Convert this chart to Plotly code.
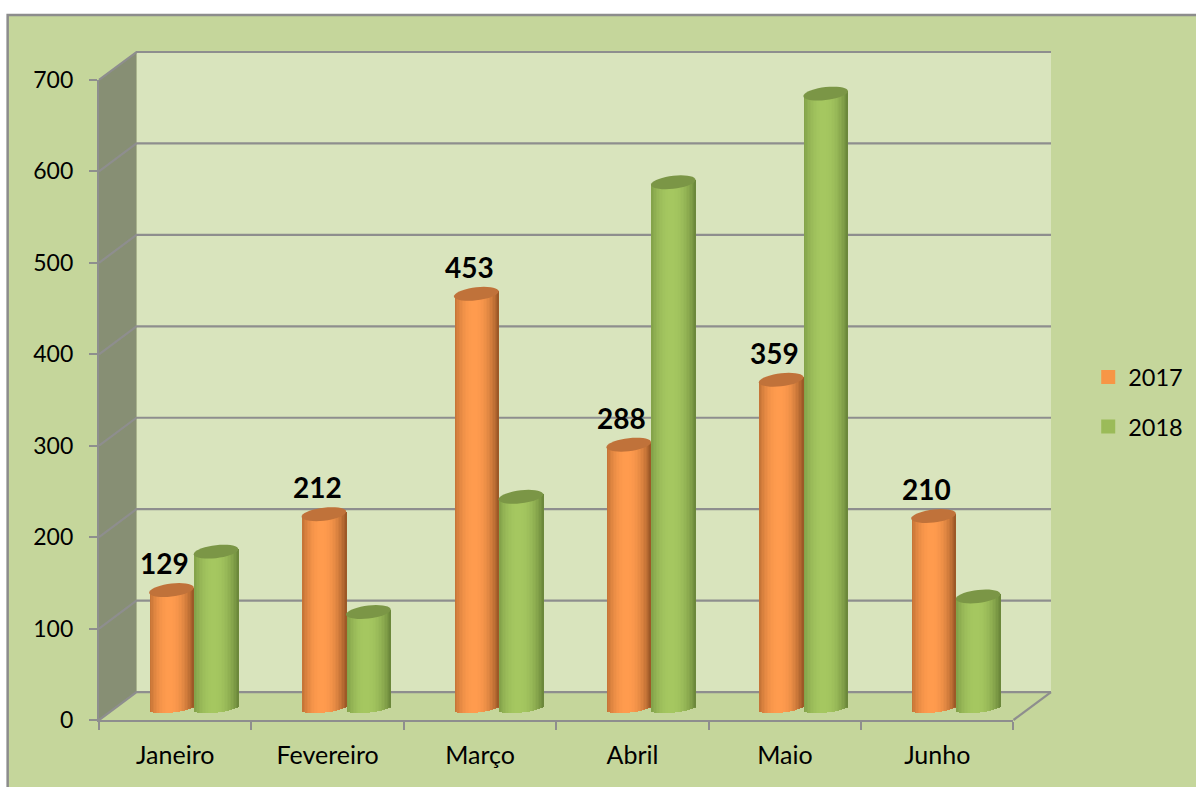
import math
import plotly.graph_objects as go

months = ["Janeiro", "Fevereiro", "Março", "Abril", "Maio", "Junho"]
values_2017 = [129, 212, 453, 288, 359, 210]
values_2018 = [171, 105, 231, 575, 672, 122]
y_ticks = [0, 100, 200, 300, 400, 500, 600, 700]

# pixel geometry of the pseudo-3D box
W, H = 1196, 787
FX0, FX1, FY0, FY1 = 99.3, 1013.3, 720.2, 79.5
DX, DY = 37.5, 28
BAR_SHIFT_X, BAR_SHIFT_Y = 18.5, 12
L, R, T, B = FX0, FX1 + DX, FY1 - DY, FY0
PW, PH = R - L, B - T
PX_PER_UNIT = (FY0 - FY1) / 700
CAT_W = (FX1 - FX0) / 6
BAR_PX = 44.5
STRIPS = 30
SEMI_MINOR = 6.5
BOTTOM_MINOR = 4.5
TILT = 2.5


def px(x):
    return (x - L) / PW


def py(y):
    return (B - y) / PH


def mix(c1, c2, f):
    return "rgb(%d,%d,%d)" % tuple(round(a + (b - a) * f) for a, b in zip(c1, c2))


series = [
    dict(name="2017", vals=values_2017, edge=(150, 84, 36), mid=(255, 155, 78), swatch="#F79646",
         top="#C0723A", side=-1),
    dict(name="2018", vals=values_2018, edge=(104, 132, 56), mid=(165, 199, 96), swatch="#9BBB59",
         top="#7B9646", side=0),
]

fig = go.Figure()
# carrier for the category axis
fig.add_trace(go.Scatter(x=months, y=values_2017, mode="markers", marker=dict(opacity=0),
                         showlegend=False, hoverinfo="skip", xaxis="x", yaxis="y"))

shapes = []
GRID = "#8E8E8E"
# chart area and walls
shapes.append(dict(type="rect", xref="paper", yref="paper", x0=px(8), x1=px(1300), y0=py(14.5), y1=py(900),
                   fillcolor="#C5D69B", line=dict(color="#8C8C8C", width=2.5), layer="below"))
shapes.append(dict(type="rect", xref="paper", yref="paper", x0=px(FX0 + DX), x1=px(FX1 + DX),
                   y0=py(FY0 - DY), y1=py(FY1 - DY), fillcolor="#D9E4BD", line_width=0, layer="below"))


def poly(points):
    return "M" + "L".join("%.5f,%.5f" % (px(a), py(b)) for a, b in points) + "Z"


shapes.append(dict(type="path", xref="paper", yref="paper", layer="below", fillcolor="#878F74", line_width=0,
                   path=poly([(FX0, FY0), (FX0 + DX, FY0 - DY), (FX0 + DX, FY1 - DY), (FX0, FY1)])))
shapes.append(dict(type="path", xref="paper", yref="paper", layer="below", fillcolor="#C5D69B", line_width=0,
                   path=poly([(FX0, FY0), (FX1, FY0), (FX1 + DX, FY0 - DY), (FX0 + DX, FY0 - DY)])))
for v in y_ticks:
    y = FY0 - v * PX_PER_UNIT
    shapes.append(dict(type="path", xref="paper", yref="paper", layer="below",
                       line=dict(color=GRID, width=2.2),
                       path="M%.5f,%.5fL%.5f,%.5fL%.5f,%.5f" % (px(FX0), py(y), px(FX0 + DX), py(y - DY),
                                                               px(FX1 + DX), py(y - DY))))
shapes.append(dict(type="line", xref="paper", yref="paper", layer="below", line=dict(color=GRID, width=2.2),
                   x0=px(FX1), y0=py(FY0), x1=px(FX1 + DX), y1=py(FY0 - DY)))

bw = BAR_PX / CAT_W
for s in series:
    step = bw / STRIPS
    left = s["side"] * bw
    for k in range(STRIPS):
        t = ((k + 0.5) / STRIPS) * 2 - 1
        # brightest a little left of centre
        shade = max(0.0, 1 - abs((t + 0.12) / 1.12) ** 2.2)
        color = mix(s["edge"], s["mid"], shade)
        tilt_u = TILT * t / PX_PER_UNIT
        bottom = -BOTTOM_MINOR * math.sqrt(max(0, 1 - t * t)) / PX_PER_UNIT + tilt_u
        fig.add_trace(go.Bar(
            x=months,
            y=[v + tilt_u - bottom for v in s["vals"]],
            base=[bottom] * len(months),
            offset=left + k * step,
            width=step * (1.7 if k < STRIPS - 1 else 1),
            marker=dict(color=color, line_width=0),
            name=s["name"], legendgroup=s["name"], showlegend=False,
            xaxis="x2", yaxis="y2", hoverinfo="skip",
        ))
    fig.add_trace(go.Bar(x=[None], y=[None], name=s["name"], legendgroup=s["name"], xaxis="x2", yaxis="y2",
                         marker=dict(color=s["swatch"], line=dict(color=s["swatch"], width=2))))
    # elliptical tops
    for i, v in enumerate(s["vals"]):
        cx = i + left + bw / 2
        pts = []
        for a in range(0, 360, 10):
            ca, sa = math.cos(math.radians(a)), math.sin(math.radians(a))
            pts.append("%.4f,%.3f" % (cx + ca * bw / 2,
                                      v + (SEMI_MINOR * sa + TILT * ca) / PX_PER_UNIT))
        shapes.append(dict(type="path", xref="x2", yref="y2", layer="above", fillcolor=s["top"], line_width=0,
                           path="M" + "L".join(pts) + "Z"))

annotations = [
    dict(x=m, y=v, xref="x2", yref="y2", text="<b>%d</b>" % v, showarrow=False, xshift=-29, yshift=27,
         font=dict(family="Lato", size=28, color="#000000"))
    for m, v in zip(months, values_2017)
]

y2_low = -(B - (FY0 - BAR_SHIFT_Y)) / PX_PER_UNIT
y2_high = ((FY0 - BAR_SHIFT_Y) - T) / PX_PER_UNIT
AXIS = dict(showline=True, linecolor=GRID, linewidth=2.2, ticks="outside", tickcolor=GRID, tickwidth=2.2,
            ticklen=8, showgrid=False, zeroline=False)
fig.update_layout(
    width=W, height=H, autosize=False,
    margin=dict(l=L, r=W - R, t=T, b=H - B, pad=0, autoexpand=False),
    paper_bgcolor="#FFFFFF", plot_bgcolor="rgba(0,0,0,0)",
    barmode="overlay", bargap=0,
    showlegend=True,
    legend=dict(x=px(1088), y=py(355), xanchor="left", yanchor="top", tracegroupgap=16,
                font=dict(family="Lato", size=23.5, color="#000000"), bgcolor="rgba(0,0,0,0)",
                traceorder="grouped"),
    xaxis=dict(AXIS, type="category", categoryorder="array", categoryarray=months, range=[-0.5, 5.5],
               tickson="boundaries", domain=[0, (FX1 - FX0) / PW], ticklabelstandoff=12, fixedrange=True,
               anchor="y", tickfont=dict(family="Lato", size=25, color="#000000")),
    yaxis=dict(AXIS, range=[0, 700], tickvals=y_ticks, domain=[0, (FY0 - FY1) / PH], ticklabelstandoff=11,
               fixedrange=True, anchor="x", tickfont=dict(family="Lato", size=23, color="#000000")),
    xaxis2=dict(type="category", categoryorder="array", categoryarray=months, range=[-0.5, 5.5],
                domain=[BAR_SHIFT_X / PW, (FX1 - FX0 + BAR_SHIFT_X) / PW], visible=False, anchor="y2",
                fixedrange=True),
    yaxis2=dict(range=[y2_low, y2_high], domain=[0, 1], visible=False, anchor="x2", fixedrange=True),
    shapes=shapes,
    annotations=annotations,
    hovermode=False,
)
fig.write_html("out.html", config=dict(displayModeBar=False),
               post_script="document.body.style.margin='0';document.body.style.overflow='hidden';")
